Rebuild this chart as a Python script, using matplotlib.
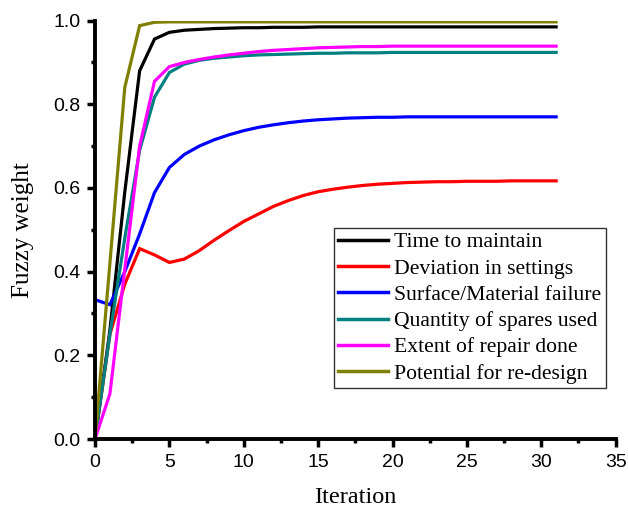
import matplotlib
matplotlib.use("Agg")
import matplotlib.pyplot as plt
from matplotlib.ticker import MultipleLocator

iterations = list(range(32))

time_to_maintain = [0, 0.26, 0.59, 0.88, 0.956, 0.972, 0.977, 0.979, 0.981, 0.982, 0.983,
                    0.983, 0.984, 0.984, 0.984, 0.985, 0.985, 0.985, 0.985, 0.985, 0.985,
                    0.985, 0.985, 0.985, 0.985, 0.985, 0.985, 0.985, 0.985, 0.985, 0.985, 0.985]
deviation = [0, 0.25, 0.37, 0.455, 0.44, 0.422, 0.43, 0.45, 0.475, 0.498, 0.52,
             0.538, 0.556, 0.57, 0.582, 0.591, 0.597, 0.602, 0.606, 0.609, 0.611,
             0.613, 0.614, 0.615, 0.615, 0.616, 0.616, 0.616, 0.617, 0.617, 0.617, 0.617]
surface = [0.333, 0.321, 0.40, 0.49, 0.589, 0.649, 0.68, 0.70, 0.715, 0.727, 0.737,
           0.745, 0.751, 0.756, 0.760, 0.763, 0.765, 0.767, 0.768, 0.769, 0.769,
           0.770, 0.770, 0.770, 0.770, 0.770, 0.770, 0.770, 0.770, 0.770, 0.770, 0.770]
spares = [0, 0.25, 0.48, 0.69, 0.817, 0.876, 0.896, 0.905, 0.91, 0.913, 0.916,
          0.918, 0.919, 0.920, 0.921, 0.922, 0.922, 0.923, 0.923, 0.923, 0.924,
          0.924, 0.924, 0.924, 0.924, 0.924, 0.924, 0.924, 0.924, 0.924, 0.924, 0.924]
repair = [0, 0.108, 0.405, 0.70, 0.855, 0.89, 0.90, 0.907, 0.913, 0.918, 0.922,
          0.926, 0.929, 0.931, 0.933, 0.935, 0.936, 0.937, 0.938, 0.938, 0.939,
          0.939, 0.939, 0.939, 0.939, 0.939, 0.939, 0.939, 0.939, 0.939, 0.939, 0.939]
redesign = [0, 0.42, 0.84, 0.988, 0.996, 0.997, 0.997, 0.997, 0.997, 0.997, 0.997,
            0.997, 0.997, 0.997, 0.997, 0.997, 0.997, 0.997, 0.997, 0.997, 0.997,
            0.997, 0.997, 0.997, 0.997, 0.997, 0.997, 0.997, 0.997, 0.997, 0.997, 0.997]

labels = ["Time to maintain", "Deviation in settings", "Surface/Material failure",
          "Quantity of spares used", "Extent of repair done", "Potential for re-design"]
colors = ["#000000", "#FF0000", "#0000FF", "#008080", "#FF00FF", "#808000"]
series = [time_to_maintain, deviation, surface, spares, repair, redesign]

fig = plt.figure(figsize=(6.28, 5.09), dpi=100)
ax = fig.add_axes([0.1513, 0.1375, 0.829, 0.822])

for vals, c, lab in zip(series, colors, labels):
    ax.plot(iterations, vals, color=c, lw=2.3, label=lab, solid_joinstyle="miter")

ax.set_xlim(0, 35)
ax.set_ylim(0, 1.0)
ax.xaxis.set_major_locator(MultipleLocator(5))
ax.xaxis.set_minor_locator(MultipleLocator(2.5))
ax.yaxis.set_major_locator(MultipleLocator(0.2))
ax.yaxis.set_minor_locator(MultipleLocator(0.1))
ax.set_yticks([0, 0.2, 0.4, 0.6, 0.8, 1.0])
ax.set_yticklabels(["0.0", "0.2", "0.4", "0.6", "0.8", "1.0"])

for s in ["top", "right"]:
    ax.spines[s].set_visible(False)
for s in ["left", "bottom"]:
    ax.spines[s].set_linewidth(2.8)
    ax.spines[s].set_capstyle("projecting")
ax.tick_params(which="major", direction="out", length=5.5, width=2.5,
               labelsize=14, pad=5)
ax.tick_params(which="minor", direction="out", length=3, width=2.5)
for lab in ax.get_xticklabels() + ax.get_yticklabels():
    lab.set_fontfamily("Liberation Sans")

serif = "Liberation Serif"
ax.set_xlabel("Iteration", fontfamily=serif, fontsize=17.5, labelpad=12)
ax.set_ylabel("Fuzzy weight", fontfamily=serif, fontsize=18, labelpad=14)

leg = ax.legend(loc="lower right", bbox_to_anchor=(0.981, 0.122),
                prop={"family": serif, "size": 15.6}, frameon=True, fancybox=False,
                handlelength=2.3, handletextpad=0.3, labelspacing=0.28,
                borderpad=0.2, borderaxespad=0, handleheight=0.7)
leg.get_frame().set_edgecolor("black")
leg.get_frame().set_linewidth(1.0)
for line in leg.get_lines():
    line.set_linewidth(2.5)

fig.savefig("out.png", dpi=100)
